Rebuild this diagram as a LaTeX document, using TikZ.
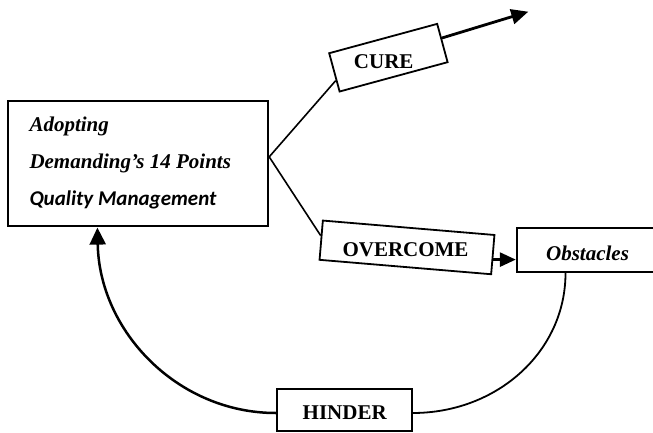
\documentclass[tikz,border=0pt]{standalone}
\usepackage{fontspec}
\setmainfont{Liberation Serif}[
  BoldFont={Liberation Serif Bold},
  ItalicFont={Liberation Serif Italic},
  BoldItalicFont={Liberation Serif Bold Italic}]
\newfontfamily\calibfont{Carlito}[
  BoldItalicFont={Carlito Bold Italic}]
\usetikzlibrary{arrows.meta,calc}
\begin{document}
\begin{tikzpicture}[x=1pt,y=1pt,
  frame/.style={draw,line width=1.8pt,fill=white,inner sep=0pt},
  boxtext/.style={inner sep=0pt,font=\fontsize{21}{25}\selectfont\bfseries},
  iboxtext/.style={inner sep=0pt,font=\fontsize{21}{25}\selectfont\bfseries\itshape},
  link/.style={line width=1.6pt},
  heavy arrow/.style={line width=2.8pt,-{Triangle[length=17pt,width=15pt]}},
]
\useasboundingbox (0,0) rectangle (653,432);

% main box with its three lines
\node[frame,minimum width=260pt,minimum height=125pt] (main) at (138.3,268.8) {};
\node[iboxtext,anchor=base west] (adopt) at (29.3,300.3) {Adopting};
\node[iboxtext,anchor=base west] (deming) at (29.3,263.7) {Demanding’s 14 Points};
\node[inner sep=0pt,anchor=base west,font=\fontsize{21}{25}\selectfont\calibfont\bfseries\itshape] (qm) at (29.3,227) {Quality Management};

% tilted boxes
\node[frame,rotate=15.2,minimum width=111.9pt,minimum height=39.7pt] (cure) at (388.4,374.3) {};
\node[boxtext] (curetext) at (383.7,370) {CURE};
\node[frame,rotate=-4.8,minimum width=172.2pt,minimum height=39.4pt] (over) at (407,184.6) {};
\node[boxtext] (overtext) at (405.5,182.3) {OVERCOME};

% obstacles and hinder boxes
\node[frame,minimum width=141.6pt,minimum height=44pt] (obst) at (587.5,181.7) {};
\node[iboxtext] (obsttext) at (587.5,179) {Obstacles};
\node[frame,minimum width=135pt,minimum height=41.4pt] (hinder) at (344.2,22) {};
\node[boxtext] (hindertext) at (344.7,19) {HINDER};

% branches from the main box
\coordinate (fork) at ($(main.north east)!0.45!(main.south east)$);
\coordinate (curein) at ($(cure.north west)!0.7!(cure.south west)$);
\coordinate (overin) at ($(over.north west)!0.39!(over.south west)$);
\draw[link] (curein) -- (fork) -- (overin);

\coordinate (cureout) at ($(cure.north east)!0.38!(cure.south east)$);
\coordinate (curetip) at (528.3,420.3);
\draw[heavy arrow] (cureout) -- (curetip);

\coordinate (overout) at ($(over.north east)!0.62!(over.south east)$);
\draw[heavy arrow,-{Triangle[length=16pt,width=14pt]}] (overout) -- (overout -| obst.west);

% feedback loop
\coordinate (hl) at ($(hinder.west)+(0,-3)$);
\coordinate (hr) at ($(hinder.east)+(0,-3)$);
\coordinate (maintip) at ($(main.south west)+(90,-1)$);
\coordinate (obout) at ($(obst.south)+(-22,0)$);
\draw[line width=2.5pt,-{Triangle[length=17pt,width=16pt]}] (hl) .. controls +(-98,0) and +(2,-104) .. (maintip);
\draw[line width=1.8pt] (obout) .. controls +(0,-78) and +(85,0) .. (hr);
\end{tikzpicture}
\end{document}
